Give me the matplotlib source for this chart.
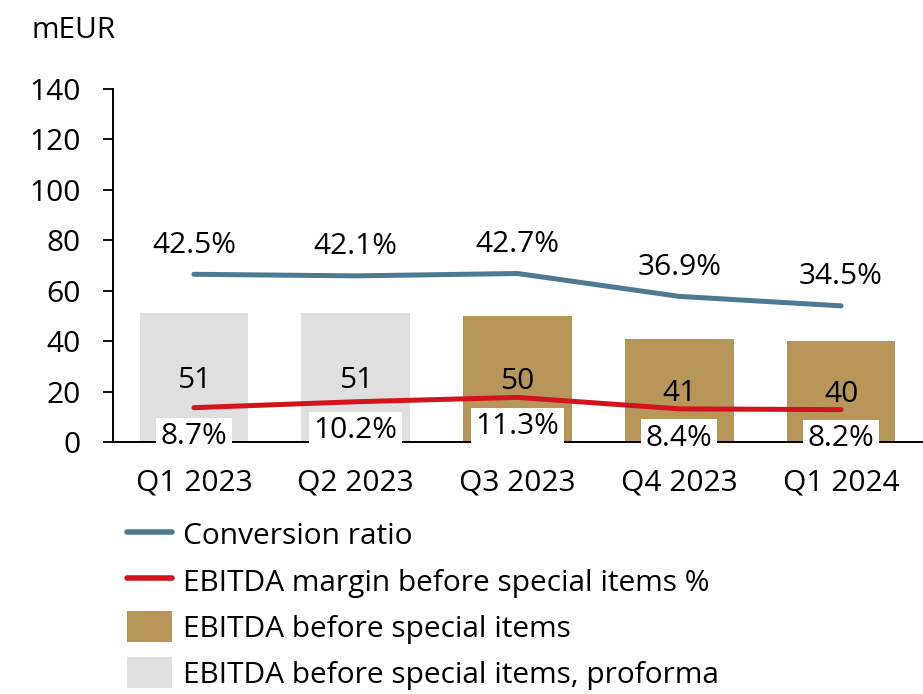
import matplotlib
matplotlib.use("Agg")
import matplotlib.pyplot as plt
from matplotlib.lines import Line2D
from matplotlib.patches import Patch

categories = ["Q1 2023", "Q2 2023", "Q3 2023", "Q4 2023", "Q1 2024"]
ebitda = [51, 51, 50, 41, 40]
proforma = [True, True, False, False, False]
conversion_ratio = [42.5, 42.1, 42.7, 36.9, 34.5]
ebitda_margin = [8.7, 10.2, 11.3, 8.4, 8.2]
yticks = [0, 20, 40, 60, 80, 100, 120, 140]

GOLD = "#b8965a"
GREY = "#dfdfdf"
BLUE = "#4f7891"
RED = "#d2141e"
FS = 21.5

plt.rcParams["font.family"] = ["Open Sans", "DejaVu Sans"]

W, H = 923, 694
fig = plt.figure(figsize=(W / 100, H / 100), dpi=100)
ax = fig.add_axes([113 / W, (H - 442) / H, (922 - 113) / W, (442 - 89) / H])

x = list(range(len(categories)))
colors = [GREY if p else GOLD for p in proforma]
ax.bar(x, ebitda, width=0.67, color=colors, zorder=2)
for xi, v in zip(x, ebitda):
    ax.annotate(f"{v}", (xi, v / 2), xytext=(0, -2), textcoords="offset points",
                ha="center", va="center", fontsize=FS, zorder=3)

ax.set_xlim(-0.5, len(categories) - 0.5)
ax.set_ylim(0, 140)
ax.set_yticks(yticks)
ax.set_xticks(x)
ax.set_xticklabels(categories)
ax.tick_params(axis="y", length=7, width=1.3, pad=16, labelsize=FS)
ax.tick_params(axis="x", length=0, pad=19, labelsize=FS)
for s in ["top", "right"]:
    ax.spines[s].set_visible(False)
ax.spines["left"].set_linewidth(1.4)
ax.spines["bottom"].set_linewidth(1.4)

ax2 = ax.twinx()
ax2.set_ylim(0, 140 / 1.565)
ax2.axis("off")
ax2.plot(x, conversion_ratio, color=BLUE, lw=3.6, solid_capstyle="round", zorder=3)
ax2.plot(x, ebitda_margin, color=RED, lw=3.6, solid_capstyle="round", zorder=3)
for xi, v in zip(x, conversion_ratio):
    ax2.annotate(f"{v:.1f}%", (xi, v), xytext=(0, 21), textcoords="offset points",
                 ha="center", va="center", fontsize=FS)
for xi, v in zip(x, ebitda_margin):
    ax2.annotate(f"{v:.1f}%", (xi, v), xytext=(0, -21), textcoords="offset points",
                 ha="center", va="center", fontsize=FS, zorder=5,
                 bbox=dict(boxstyle="square,pad=0.15", fc="white", ec="none"))

fig.text(31 / W, 1 - 30 / H, "mEUR", fontsize=FS, va="center", ha="left")

handles = [
    Line2D([], [], color=BLUE, lw=4, solid_capstyle="round"),
    Line2D([], [], color=RED, lw=4, solid_capstyle="round"),
    Patch(facecolor=GOLD, edgecolor="none"),
    Patch(facecolor=GREY, edgecolor="none"),
]
labels = ["Conversion ratio", "EBITDA margin before special items %",
          "EBITDA before special items", "EBITDA before special items, proforma"]
fig.legend(handles, labels, loc="upper left", bbox_to_anchor=(127 / W, 1 - 519 / H),
           frameon=False, fontsize=FS, handlelength=1.5, handleheight=1.2,
           handletextpad=0.36, labelspacing=0.46, borderpad=0, borderaxespad=0)

fig.savefig("out.png", dpi=100)
